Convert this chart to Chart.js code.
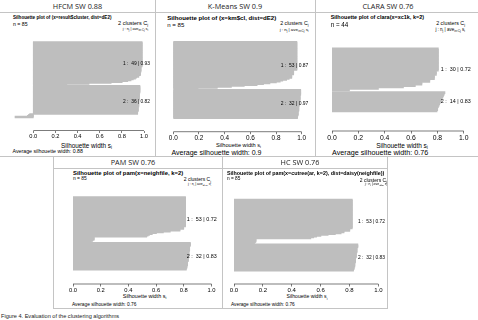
<!DOCTYPE html>
<html>
<head>
<meta charset="utf-8">
<script src="https://cdn.jsdelivr.net/npm/chart.js@4.4.1/dist/chart.umd.min.js"></script>
<style>
  body { margin:0; width:478px; height:320px; position:relative; overflow:hidden; background:#fff;
         font-family:'Liberation Sans', Arial, sans-serif; color:#000; }
  .txt { position:absolute; white-space:nowrap; line-height:1; }
  .txt sub { font-size:70%; line-height:0; vertical-align:-0.3em; }
  .ln { position:absolute; background:#c4c4c4; }
  canvas { position:absolute; }
</style>
</head>
<body>
<script>
// silhouette widths, one value per observation, cluster 1 then cluster 2 (sorted as plotted)
const xTicks = [0, 0.2, 0.4, 0.6, 0.8, 1.0];

const hfcmC1 = [
  0.98, 0.98, 0.98, 0.98, 0.98, 0.98, 0.98, 0.98, 0.98, 0.98,
  0.98, 0.98, 0.98, 0.98, 0.98, 0.98, 0.98, 0.98, 0.98, 0.98,
  0.98, 0.98, 0.98, 0.98, 0.98, 0.98, 0.98, 0.98, 0.97, 0.97,
  0.97, 0.97, 0.97, 0.97, 0.965, 0.965, 0.965, 0.965, 0.95, 0.95,
  0.93, 0.92, 0.90, 0.88, 0.85, 0.80, 0.70, 0.50, 0.30];
const hfcmC2 = [
  0.96, 0.96, 0.96, 0.96, 0.96, 0.96, 0.96, 0.96, 0.955, 0.955,
  0.955, 0.955, 0.955, 0.955, 0.955, 0.955, 0.95, 0.95, 0.95, 0.95,
  0.95, 0.95, 0.95, 0.95, 0.945, 0.945, 0.945, 0.945, 0.945, 0.94,
  0.94, 0.94, -0.03, -0.04, -0.05, -0.165];
const hfcmClusterText = ['1 :  49 | 0.93', '2 :  36 | 0.82'];

const kmC1 = [
  0.96, 0.96, 0.96, 0.96, 0.96, 0.96, 0.96, 0.96, 0.96, 0.96,
  0.96, 0.96, 0.96, 0.96, 0.96, 0.96, 0.96, 0.96, 0.96, 0.96,
  0.96, 0.96, 0.96, 0.96, 0.96, 0.96, 0.96, 0.96, 0.96, 0.96,
  0.96, 0.96, 0.935, 0.935, 0.935, 0.935, 0.935, 0.92, 0.92, 0.92,
  0.92, 0.90, 0.88, 0.85, 0.83, 0.80, 0.75, 0.70, 0.65, 0.55,
  0.45, 0.34, 0.19];
const kmC2 = [
  0.99, 0.99, 0.99, 0.99, 0.99, 0.99, 0.985, 0.985, 0.985, 0.985,
  0.985, 0.985, 0.98, 0.98, 0.98, 0.98, 0.98, 0.98, 0.975, 0.975,
  0.975, 0.975, 0.975, 0.975, 0.97, 0.97, 0.97, 0.97, 0.97, 0.965,
  0.965, 0.965];
const kmClusterText = ['1 :  53 | 0.87', '2 :  32 | 0.97'];

const claraC1 = [
  0.805, 0.805, 0.805, 0.805, 0.805, 0.805, 0.805, 0.805, 0.805, 0.805,
  0.805, 0.805, 0.805, 0.805, 0.805, 0.805, 0.79, 0.79, 0.79, 0.775,
  0.775, 0.775, 0.74, 0.74, 0.68, 0.68, 0.63, 0.54, 0.35, 0.13];
const claraC2 = [0.855, 0.85, 0.845, 0.84, 0.835, 0.83, 0.825, 0.82, 0.815, 0.81, 0.805, 0.80, 0.80, 0.795];
const claraClusterText = ['1 :  30 | 0.72', '2 :  14 | 0.83'];

const pamC1 = [
  0.81, 0.81, 0.81, 0.81, 0.81, 0.81, 0.81, 0.81, 0.81, 0.81,
  0.81, 0.81, 0.81, 0.81, 0.81, 0.81, 0.81, 0.81, 0.81, 0.81,
  0.81, 0.81, 0.81, 0.81, 0.81, 0.81, 0.81, 0.81, 0.81, 0.81,
  0.81, 0.81, 0.81, 0.81, 0.81, 0.797, 0.797, 0.797, 0.77, 0.77,
  0.70, 0.65, 0.60, 0.57, 0.55, 0.54, 0.53, 0.15, 0.15, 0.15,
  0.15, 0.14, 0.13];
const pamC2 = [
  0.845, 0.845, 0.845, 0.845, 0.84, 0.84, 0.84, 0.84, 0.84, 0.84,
  0.835, 0.835, 0.835, 0.835, 0.835, 0.835, 0.83, 0.83, 0.83, 0.83,
  0.83, 0.83, 0.825, 0.825, 0.825, 0.825, 0.825, 0.82, 0.82, 0.82,
  0.816, 0.816];
const pamClusterText = ['1 :  53 | 0.72', '2 :  32 | 0.83'];

const hcC1 = [
  0.817, 0.817, 0.817, 0.817, 0.817, 0.817, 0.817, 0.817, 0.817, 0.817,
  0.817, 0.817, 0.817, 0.817, 0.817, 0.817, 0.817, 0.817, 0.817, 0.817,
  0.817, 0.817, 0.817, 0.817, 0.817, 0.817, 0.817, 0.817, 0.817, 0.817,
  0.817, 0.817, 0.817, 0.817, 0.817, 0.80, 0.80, 0.80, 0.76, 0.76,
  0.74, 0.70, 0.65, 0.60, 0.57, 0.55, 0.53, 0.15, 0.15, 0.15,
  0.15, 0.146, 0.14];
const hcC2 = [
  0.856, 0.856, 0.856, 0.856, 0.85, 0.85, 0.85, 0.85, 0.85, 0.85,
  0.845, 0.845, 0.845, 0.845, 0.845, 0.845, 0.84, 0.84, 0.84, 0.84,
  0.84, 0.84, 0.835, 0.835, 0.835, 0.835, 0.835, 0.83, 0.83, 0.83,
  0.826, 0.826];
const hcClusterText = ['1 :  53 | 0.72', '2 :  32 | 0.83'];

const barColor = '#bebebe';

// layout of the five cells (page pixels); *W = target text widths
const panels = [
  {head:'HFCM SW 0.88', hx:77.5, hy:6.5,
   main:'Silhouette plot of (x=result$cluster, dist=dE2)', n:'n = 85', avg:'Average silhouette width: 0.88',
   c1:hfcmC1, c2:hfcmC2, ct:hfcmClusterText,
   xmin:-0.17, x0:33.3, x1:144, top:32, barBottom:126.5, axisY:130.5, fs:5.5, tickFs:5.7, labOff:6, labW:27,
   mainX:13, mainY:17.5, mainW:99, nY:25, clX:148, clY:24, clW:30, xlabX:86.5, xlabY:146, xlabW:51,
   avgX:12.5, avgY:152, avgW:71},
  {head:'K-Means SW 0.9', hx:235, hy:6.5,
   main:'Silhouette plot of (x=km$cl, dist=dE2)', n:'n = 85', avg:'Average silhouette width: 0.9',
   c1:kmC1, c2:kmC2, ct:kmClusterText,
   xmin:0, x0:173.3, x1:301.7, top:31.7, barBottom:127.3, axisY:131.7, fs:6.4, tickFs:6.4, labOff:6.6, labW:27.6,
   mainX:167.3, mainY:17.5, mainW:109, nY:25, clX:308.5, clY:24, clW:28.5, xlabX:238.5, xlabY:146, xlabW:45,
   avgX:171.5, avgY:153, avgW:90},
  {head:'CLARA SW 0.76', hx:388, hy:6.5,
   main:'Silhouette plot of clara(x=xc1k, k=2)', n:'n = 44', avg:'Average silhouette width: 0.76',
   c1:claraC1, c2:claraC2, ct:claraClusterText,
   xmin:0, x0:332, x1:463.7, top:31.7, barBottom:126.7, axisY:131, fs:6.6, tickFs:6.8, labOff:7, labW:30,
   mainX:330.7, mainY:17.5, mainW:93, nY:25, clX:465, clY:23.5, clW:29, xlabX:402, xlabY:146, xlabW:52,
   avgX:332, avgY:153, avgW:96},
  {head:'PAM SW 0.76', hx:133, hy:163,
   main:'Silhouette plot of pam(x=neighfile, k=2)', n:'n = 85', avg:'Average silhouette width: 0.76',
   c1:pamC1, c2:pamC2, ct:pamClusterText,
   xmin:0, x0:73, x1:211.5, top:187.3, barBottom:278.3, axisY:284, fs:5.2, tickFs:5.8, labOff:5.2, labW:30,
   mainX:73, mainY:173.5, mainW:110, nY:179, clX:211, clY:179.5, clW:27, xlabX:144.5, xlabY:297, xlabW:43,
   avgX:72, avgY:305, avgW:64},
  {head:'HC SW 0.76', hx:300, hy:163,
   main:'Silhouette plot of pam(x=cutree(ar, k=2), dist=daisy(neighfile))', n:'n = 85', avg:'Average silhouette width: 0.76',
   c1:hcC1, c2:hcC2, ct:hcClusterText,
   xmin:0, x0:234, x1:378.3, top:190, barBottom:279.3, axisY:284, fs:5.0, tickFs:6.0, labOff:6.7, labW:27,
   mainX:227, mainY:173.5, mainW:158, nY:179, clX:387, clY:179.5, clW:27, xlabX:307, xlabY:297, xlabW:41,
   avgX:231, avgY:305, avgW:64}
];

function addText(html, x, y, size, align, extra, fitW) {
  const d = document.createElement('div');
  d.className = 'txt';
  d.innerHTML = html;
  d.style.left = x + 'px';
  d.style.top = y + 'px';
  d.style.fontSize = size + 'px';
  const tx = align === 'right' ? '-100%' : (align === 'center' ? '-50%' : '0');
  d.style.transform = 'translate(' + tx + ', -50%)';
  if (extra) Object.assign(d.style, extra);
  document.body.appendChild(d);
  if (fitW) {
    const w = d.offsetWidth;
    if (w > 0) d.style.fontSize = (size * fitW / w) + 'px';
  }
  return d;
}

function line(x, y, w, h) {
  const d = document.createElement('div');
  d.className = 'ln';
  d.style.left = x + 'px'; d.style.top = y + 'px';
  d.style.width = w + 'px'; d.style.height = h + 'px';
  document.body.appendChild(d);
}

// table borders
line(0, 12, 478, 1);
line(0, 155.5, 478, 1);
line(155, 0, 1, 156);
line(315, 0, 1, 156);
line(53, 168, 335, 1);
line(53, 307.5, 335, 1);
line(53, 156, 1, 152);
line(222, 156, 1, 152);
line(387, 156, 1, 152);

addText('Figure 4. Evaluation of the clustering algorithms', 1, 316.5, 5.6, 'left', {color:'#222'});

Chart.defaults.font.family = "'Liberation Sans', Arial, sans-serif";

function drawPanel(p) {
  // texts of the R silhouette plot
  addText(p.head, p.hx, p.hy, 7.3, 'center', {fontFamily:"'Open Sans', sans-serif", color:'#222'});
  addText(p.main, p.mainX, p.mainY, 5, 'left', {fontWeight:'bold'}, p.mainW);
  addText(p.n, p.mainX, p.nY, p.fs * 0.95, 'left');
  addText('2 clusters C<sub>j</sub>', p.clX, p.clY, p.fs, 'right', null, p.clW);
  addText('j :  n<sub>j</sub> | ave<sub>i&#8712;Cj</sub> s<sub>i</sub>', p.clX, p.clY + p.fs, p.fs * 0.68, 'right');
  addText('Silhouette width s<sub>i</sub>', p.xlabX, p.xlabY, p.fs, 'center', null, p.xlabW);
  addText(p.avg, p.avgX, p.avgY, p.fs, 'left', null, p.avgW);

  const gap = 1;
  const pts = [];
  p.c1.forEach((v, i) => pts.push({x: v, y: i}));
  p.c2.forEach((v, i) => pts.push({x: v, y: p.c1.length + gap + i}));
  const nUnits = p.c1.length + gap + p.c2.length;
  const unit = (p.barBottom - p.top) / nUnits;
  const yMax = -0.5 + (p.axisY - p.top) / unit;
  const mids = [(p.c1.length - 1) / 2, p.c1.length + gap + (p.c2.length - 1) / 2];

  const tickFont = p.tickFs;
  const tickLen = 2.5, tickPad = 0.5;
  const axisH = tickLen + tickFont * 1.2 + 2 * tickPad;
  const chartLeft = p.x0 + p.xmin * (p.x1 - p.x0);
  const cl = Math.floor(chartLeft - 12), ct = Math.floor(p.top - 2);
  const w = Math.ceil(p.x1 + 18 - cl), h = Math.ceil(p.axisY + axisH + 3 - ct);
  const padL = chartLeft - cl, padR = cl + w - p.x1, padT = p.top - ct, padB = ct + h - p.axisY - axisH;

  const cv = document.createElement('canvas');
  cv.width = w; cv.height = h;
  cv.style.left = cl + 'px'; cv.style.top = ct + 'px';
  cv.style.width = w + 'px'; cv.style.height = h + 'px';
  document.body.appendChild(cv);

  const axisLine = {
    id: 'axisLine',
    afterDraw(chart) {
      const xs = chart.scales.x, ctx = chart.ctx;
      const y = chart.chartArea.bottom;
      ctx.save();
      ctx.strokeStyle = '#444';
      ctx.lineWidth = 0.7;
      ctx.beginPath();
      ctx.moveTo(xs.getPixelForValue(xTicks[0]), y);
      ctx.lineTo(xs.getPixelForValue(xTicks[xTicks.length - 1]), y);
      ctx.stroke();
      ctx.restore();
    }
  };
  const clusterLabels = {
    id: 'clusterLabels',
    afterDraw(chart) {
      const xs = chart.scales.x, ys = chart.scales.y, ctx = chart.ctx;
      const fam = "px 'Liberation Sans', Arial, sans-serif";
      ctx.save();
      ctx.font = '10' + fam;
      const size = 10 * p.labW / ctx.measureText(p.ct[0]).width;
      ctx.font = size + fam;
      ctx.fillStyle = '#000';
      ctx.textAlign = 'right';
      ctx.textBaseline = 'middle';
      p.ct.forEach((t, i) => ctx.fillText(t, xs.getPixelForValue(1) + p.labOff, ys.getPixelForValue(mids[i])));
      ctx.restore();
    }
  };

  new Chart(cv, {
    type: 'bar',
    data: {
      datasets: [{
        data: pts,
        backgroundColor: barColor,
        borderWidth: 0,
        inflateAmount: 0.7,
        barPercentage: 1,
        categoryPercentage: 1
      }]
    },
    options: {
      indexAxis: 'y',
      responsive: false,
      animation: false,
      events: [],
      layout: {padding: {left: padL, right: padR, top: padT, bottom: padB}},
      plugins: {legend: {display: false}, tooltip: {enabled: false}},
      scales: {
        x: {
          type: 'linear',
          min: p.xmin,
          max: 1,
          afterBuildTicks: s => { s.ticks = xTicks.map(v => ({value: v})); },
          border: {display: false},
          grid: {drawOnChartArea: false, drawTicks: true, tickLength: tickLen, color: '#444', lineWidth: 0.7},
          ticks: {padding: tickPad, autoSkip: false, maxRotation: 0, color: '#000',
                  font: {size: tickFont}, callback: v => Number(v).toFixed(1)}
        },
        y: {type: 'linear', reverse: true, min: -0.5, max: yMax, display: false}
      }
    },
    plugins: [axisLine, clusterLabels]
  });
}

panels.forEach(drawPanel);
</script>
</body>
</html>
